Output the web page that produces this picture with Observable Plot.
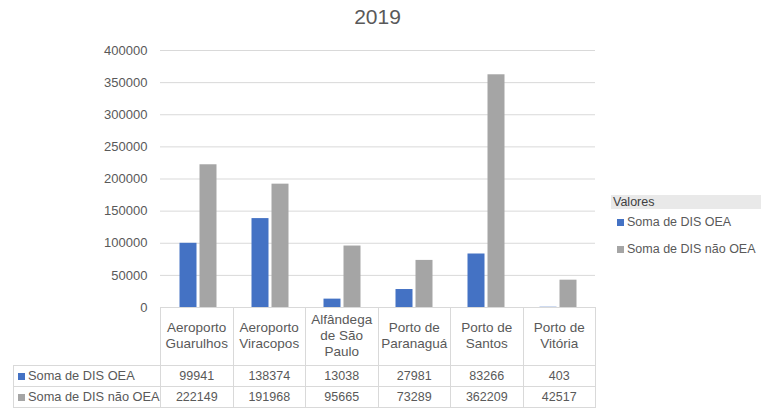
<!DOCTYPE html>
<html><head><meta charset="utf-8">
<script src="https://cdn.jsdelivr.net/npm/d3@7"></script>
<script src="https://cdn.jsdelivr.net/npm/@observablehq/plot@0.6"></script>
<style>
body{margin:0;background:#fff;font-family:"Liberation Sans",Arial,sans-serif;}
#wrap{position:relative;width:765px;height:410px;overflow:hidden;background:#fff;}
#wrap svg{position:absolute;left:0;top:0;}
#title{position:absolute;left:160px;width:435px;top:5px;text-align:center;font-size:21px;color:#595959;}
#tbl{position:absolute;left:13px;top:307px;border-collapse:collapse;table-layout:fixed;font-size:12.5px;color:#595959;}
#tbl td{padding:0;border:1px solid #d9d9d9;text-align:center;overflow:hidden;white-space:nowrap;}
#tbl tr.head td{height:58px;border-top:none;line-height:16px;font-size:13.5px;vertical-align:middle;}
#tbl tr.head td.blank{border:none;border-right:1px solid #d9d9d9;}
#tbl tr.row td{height:20px;line-height:20px;}
#tbl td.lab{text-align:left;padding-left:4px;font-size:12.8px;}
.sw{display:inline-block;width:7px;height:7px;margin-right:3px;vertical-align:0px;}
#legend{position:absolute;left:611px;top:195px;width:150px;font-size:12.5px;color:#595959;}
#legend .hd{background:#e9e9e9;color:#404040;height:14px;line-height:14px;padding-left:2px;}
#legend .it{position:absolute;left:6px;white-space:nowrap;}
</style></head><body><div id="wrap"></div>
<script>
const categories = ["Aeroporto Guarulhos","Aeroporto Viracopos","Alfândega de São Paulo","Porto de Paranaguá","Porto de Santos","Porto de Vitória"];
const headerLabels = [["Aeroporto","Guarulhos"],["Aeroporto","Viracopos"],["Alfândega","de São","Paulo"],["Porto de","Paranaguá"],["Porto de","Santos"],["Porto de","Vitória"]];
const seriesNames = ["Soma de DIS OEA","Soma de DIS não OEA"];
const oea = [99941,138374,13038,27981,83266,403];
const naoOea = [222149,191968,95665,73289,362209,42517];
const yTicks = [0,50000,100000,150000,200000,250000,300000,350000,400000];
const colors = ["#4472C4","#A5A5A5"];
const titleText = "2019";
const legendTitle = "Valores";

const wrap = document.getElementById("wrap");

const chart = Plot.plot({
  width: 765, height: 410,
  marginTop: 50, marginBottom: 103, marginLeft: 160, marginRight: 170,
  style: {fontFamily: '"Liberation Sans", Arial, sans-serif', color: "#595959", background: "transparent"},
  x: {domain: categories, padding: 0, axis: null},
  y: {domain: [0, 400000]},
  marks: [
    Plot.gridY(yTicks, {stroke: "#d9d9d9", strokeOpacity: 1}),
    Plot.barY(categories, {x: d => d, y: (d, i) => oea[i], fill: colors[0], insetLeft: 17.5, insetRight: 37.5}),
    Plot.barY(categories, {x: d => d, y: (d, i) => naoOea[i], fill: colors[1], insetLeft: 37.5, insetRight: 17.5}),
    Plot.ruleY([0], {stroke: "#d9d9d9"}),
    Plot.axisY(yTicks, {tickSize: 0, tickPadding: 13, fontSize: 13, tickFormat: d => String(d), label: null})
  ]
});
wrap.appendChild(chart);

const title = document.createElement("div");
title.id = "title"; title.textContent = titleText;
wrap.appendChild(title);

// data table
const tbl = d3.select(wrap).append("table").attr("id", "tbl");
const cg = tbl.append("colgroup");
cg.append("col").style("width", "147px");
categories.forEach(() => cg.append("col").style("width", "72.5px"));
const hr = tbl.append("tr").attr("class", "head");
hr.append("td").attr("class", "blank");
headerLabels.forEach(l => hr.append("td").html(l.join("<br>")));
[oea, naoOea].forEach((vals, s) => {
  const r = tbl.append("tr").attr("class", "row");
  const lab = r.append("td").attr("class", "lab");
  lab.append("span").attr("class", "sw").style("background", colors[s]);
  lab.append("span").text(seriesNames[s]);
  vals.forEach(v => r.append("td").text(String(v)));
});

// legend
const lg = d3.select(wrap).append("div").attr("id", "legend");
lg.append("div").attr("class", "hd").text(legendTitle);
seriesNames.forEach((n, s) => {
  const it = lg.append("div").attr("class", "it").style("top", (20 + s * 27) + "px");
  it.append("span").attr("class", "sw").style("background", colors[s]);
  it.append("span").text(n);
});
</script></body></html>
